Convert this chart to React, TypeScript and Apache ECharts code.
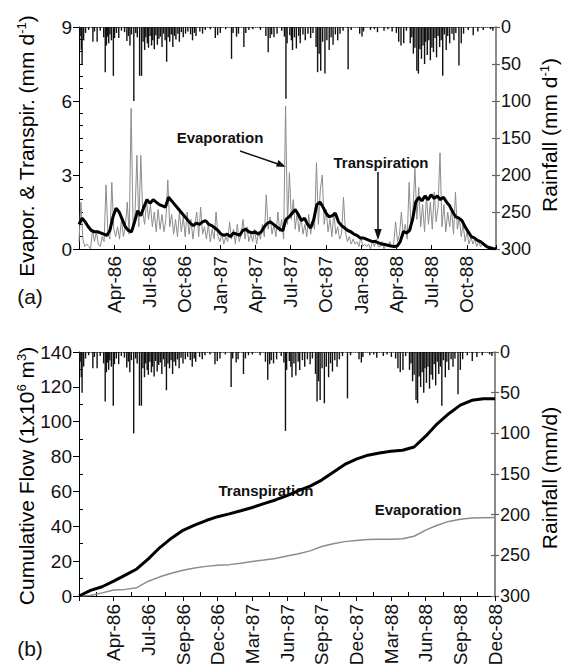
import React, { useEffect, useRef } from "react";
import * as echarts from "echarts";

// ---------- data ----------
// x positions are days since 1 Jan 1986
const quarterLabelsA = ["", "Apr-86", "Jul-86", "Oct-86", "Jan-87", "Apr-87", "Jul-87", "Oct-87", "Jan-88", "Apr-88", "Jul-88", "Oct-88"];
const tickLabelsB = ["", "Apr-86", "Jul-86", "Sep-86", "Dec-86", "Mar-87", "Jun-87", "Sep-87", "Dec-87", "Mar-88", "Jun-88", "Sep-88", "Dec-88"];

// transpiration (mm/d), one value every 8 days
const transpStep = 8;
const transpiration = [
  1.0, 1.25, 1.1, 0.9, 0.75, 0.7, 0.7, 0.65, 0.6, 0.55, 0.75, 1.3, 1.65, 1.5, 1.2, 0.9,
  0.75, 0.7, 1.1, 1.55, 1.35, 1.7, 2.0, 1.85, 2.0, 1.9, 1.8, 1.75, 1.7, 2.1, 1.95, 1.8,
  1.65, 1.5, 1.35, 1.2, 1.05, 0.95, 1.05, 1.0, 1.1, 1.15, 1.0, 0.95, 0.85, 0.75, 0.6, 0.55,
  0.6, 0.5, 0.65, 0.6, 0.55, 0.75, 0.8, 0.7, 0.65, 0.7, 0.6, 0.7, 0.9, 1.05, 1.1, 1.0,
  0.9, 0.8, 0.75, 1.2, 1.3, 1.45, 1.6, 1.4, 1.15, 1.25, 1.0, 0.85, 1.2, 1.8, 1.9, 1.7,
  1.45, 1.3, 1.35, 1.45, 1.1, 0.95, 0.85, 0.75, 0.7, 0.6, 0.55, 0.45, 0.45, 0.4, 0.35, 0.3,
  0.3, 0.25, 0.2, 0.18, 0.15, 0.12, 0.1, 0.12, 0.3, 0.7, 0.65, 0.75, 1.2, 1.9, 2.1, 1.95,
  2.15, 2.0, 2.2, 2.05, 2.15, 2.0, 2.1, 1.9, 1.75, 1.5, 1.3, 1.25, 1.15, 0.9, 0.7, 0.5,
  0.45, 0.35, 0.3, 0.2, 0.1, 0.05, 0.02, 0.01,
];

// evaporation (mm/d), one value every 5 days
const evapStep = 5;
const evaporation = [
  0.3, 1.9, 0.4, 0.1, 0.2, 0.1, 0.0, 0.8, 0.3, 0.7, 0.2, 0.1, 0.5, 0.3, 2.6, 0.6, 0.4, 2.7,
  0.8, 0.5, 0.9, 0.4, 1.2, 0.5, 0.9, 1.9, 0.6, 5.7, 1.0, 1.4, 3.8, 0.9, 3.8, 1.5, 1.0, 2.0,
  1.2, 1.8, 0.9, 1.5, 0.7, 1.6, 0.8, 1.4, 0.7, 1.2, 2.8, 0.9, 1.4, 0.6, 1.2, 0.5, 1.5, 0.7,
  1.3, 0.5, 1.5, 0.6, 1.2, 0.4, 1.0, 1.5, 0.5, 1.7, 0.6, 0.9, 0.4, 1.0, 0.3, 0.8, 0.4, 1.5,
  0.5, 0.3, 0.6, 0.2, 0.5, 0.3, 1.1, 0.4, 0.8, 0.2, 1.0, 0.3, 0.6, 1.2, 0.4, 0.9, 0.3, 0.6,
  0.3, 0.8, 0.2, 0.7, 0.4, 1.0, 0.5, 2.2, 0.8, 1.3, 0.6, 1.0, 0.5, 1.5, 0.7, 1.2, 0.4, 5.8,
  1.0, 3.1, 1.2, 2.0, 0.8, 1.5, 0.7, 1.3, 0.6, 1.0, 0.5, 1.4, 0.6, 1.2, 0.8, 3.5, 1.0, 2.4,
  3.0, 1.0, 1.6, 0.7, 1.2, 0.5, 1.5, 0.6, 0.9, 0.4, 0.6, 2.1, 0.7, 0.3, 0.5, 0.2, 0.4, 0.2,
  0.3, 0.1, 0.5, 0.1, 0.2, 0.1, 0.2, 0.0, 0.3, 0.1, 0.4, 0.1, 0.1, 0.3, 0.0, 0.2, 0.1, 0.3,
  0.1, 0.2, 1.1, 0.3, 0.6, 1.5, 0.5, 1.0, 0.4, 2.7, 0.8, 1.6, 3.3, 1.2, 2.5, 0.9, 1.8, 0.7,
  2.2, 1.0, 1.9, 0.8, 2.3, 1.1, 1.7, 3.9, 0.9, 1.8, 0.7, 1.5, 0.9, 1.6, 0.6, 2.3, 0.8, 1.3,
  0.5, 1.0, 0.3, 0.7, 0.2, 0.5, 0.2, 0.4, 0.1, 0.3, 0.1, 0.2, 0.1, 0.1, 0.0, 0.1, 0.0, 0.0,
];

// daily rainfall events [day, mm]
const rainfall = [
  [3, 12], [6, 31], [8, 50], [12, 18], [17, 8], [25, 4], [36, 20], [40, 6], [47, 20], [55, 5],
  [64, 14], [68, 61], [71, 25], [74, 13], [77, 22], [80, 10], [84, 18], [89, 66], [92, 15], [97, 8],
  [103, 15], [110, 5], [118, 7], [124, 19], [128, 12], [132, 25], [136, 10], [142, 100], [147, 8], [151, 14],
  [157, 66], [162, 66], [166, 20], [170, 31], [173, 14], [177, 22], [180, 28], [184, 12], [188, 25], [191, 18],
  [195, 30], [199, 11], [203, 24], [207, 16], [211, 13], [215, 27], [219, 9], [223, 18], [227, 47], [231, 14],
  [235, 20], [239, 10], [243, 27], [247, 12], [251, 17], [256, 9], [260, 20], [265, 7], [270, 14], [276, 9],
  [282, 6], [289, 10], [294, 18], [299, 8], [303, 12], [313, 6], [320, 9], [327, 4], [340, 3], [353, 15],
  [359, 11], [366, 8], [380, 3], [395, 43], [399, 8], [408, 13], [413, 9], [427, 27], [432, 8], [440, 4],
  [450, 3], [470, 4], [484, 12], [490, 34], [495, 15], [499, 10], [505, 14], [513, 9], [525, 5], [532, 13],
  [536, 97], [539, 22], [546, 11], [550, 18], [553, 31], [558, 14], [563, 29], [569, 12], [573, 22], [580, 10],
  [586, 18], [593, 9], [600, 15], [606, 8], [614, 27], [618, 61], [622, 36], [626, 59], [631, 20], [637, 63],
  [642, 18], [648, 31], [653, 14], [658, 24], [664, 10], [670, 18], [676, 9], [684, 5], [697, 57], [705, 4],
  [727, 9], [733, 13], [737, 6], [755, 4], [765, 3], [773, 7], [790, 5], [800, 3], [811, 6], [822, 8],
  [828, 20], [834, 25], [841, 22], [848, 5], [858, 22], [862, 14], [866, 36], [870, 28], [875, 59], [879, 63],
  [883, 30], [887, 43], [891, 25], [895, 50], [898, 20], [902, 38], [906, 18], [910, 45], [914, 28], [918, 34],
  [922, 15], [926, 41], [930, 12], [934, 27], [938, 18], [942, 66], [946, 10], [951, 31], [955, 12], [960, 22],
  [966, 9], [971, 18], [976, 8], [984, 52], [990, 22], [996, 9], [1008, 4], [1021, 11], [1033, 6], [1047, 4],
  [1066, 3], [1072, 5],
];

// cumulative flow (1x10^6 m3), one value every 30 days
const cumStep = 30;
const cumTranspiration = [
  0, 3.2, 5.3, 8.5, 12, 15.5, 21.3, 27.8, 33.2, 37.7, 40.7, 43.3, 45.5, 47.1, 48.9, 50.8,
  53, 55.1, 57.6, 60.5, 63, 66.5, 71, 75.5, 78.5, 80.8, 82, 83, 83.6, 85.5, 91.7, 98.8,
  104.6, 109.5, 112.3, 113.2, 113.2,
];
const cumEvaporation = [
  0, 0.3, 1.8, 3.5, 3.8, 4.8, 8.5, 11, 13, 14.8, 16.1, 17, 17.7, 18, 18.8, 19.8,
  20.6, 21.5, 22.9, 24.3, 25.9, 28.4, 30, 31.2, 31.9, 32.4, 32.6, 32.6, 32.9, 34.3, 37.8, 40.6,
  42.8, 44.1, 44.7, 44.9, 45.0,
];

// ---------- chart ----------
const FONT = '"Liberation Sans", Arial, Helvetica, sans-serif';
const QA = 91.3;
const QB = 90;
const XMAX = 1080;

const fmtA = (v: number) => {
  const k = Math.round(v / QA);
  return Math.abs(v - k * QA) < 0.5 ? quarterLabelsA[k] ?? "" : "";
};
const fmtB = (v: number) => {
  const k = Math.round(v / QB);
  return Math.abs(v - k * QB) < 0.5 ? tickLabelsB[k] ?? "" : "";
};

const lbl = { fontSize: 19, color: "#111", fontFamily: FONT };

function mainX(grid: number, interval: number, fmt: (v: number) => string, inside: boolean) {
  return {
    gridIndex: grid, type: "value", position: "bottom", min: 0, max: XMAX, interval,
    axisLine: { show: true, onZero: false, lineStyle: { color: "#000", width: 1 } },
    axisTick: { show: true, inside, length: inside ? 4 : 5, lineStyle: { color: "#000" } },
    axisLabel: { ...lbl, rotate: 90, margin: inside ? 7 : 8, formatter: fmt, showMinLabel: true, showMaxLabel: true },
    splitLine: { show: false },
  };
}
function minorX(grid: number, interval: number) {
  return {
    gridIndex: grid, type: "value", position: "bottom", min: 0, max: XMAX, interval,
    axisLine: { show: false, onZero: false },
    axisTick: { show: false, inside: true },
    minorTick: { show: true, splitNumber: 2, length: 4, lineStyle: { color: "#000" } },
    axisLabel: { show: false }, splitLine: { show: false },
  };
}
function topX(grid: number) {
  return {
    gridIndex: grid, type: "value", position: "top", min: 0, max: XMAX,
    axisLine: { show: true, onZero: false, lineStyle: { color: "#555", type: "dotted", width: 1 } },
    axisTick: { show: false }, axisLabel: { show: false }, splitLine: { show: false },
  };
}
function leftY(grid: number, max: number, interval: number) {
  return {
    gridIndex: grid, type: "value", position: "left", min: 0, max, interval,
    axisLine: { show: true, onZero: false, lineStyle: { color: "#000", width: 1 } },
    axisTick: { show: true, length: 6, lineStyle: { color: "#000" } },
    axisLabel: { ...lbl, margin: 7 },
    splitLine: { show: false },
  };
}
function leftMinorY(grid: number, max: number, interval: number, split: number) {
  return {
    gridIndex: grid, type: "value", position: "left", min: 0, max, interval,
    axisLine: { show: false, onZero: false },
    axisTick: { show: false, inside: true },
    minorTick: { show: true, splitNumber: split, length: 4, lineStyle: { color: "#000" } },
    axisLabel: { show: false }, splitLine: { show: false }, minorSplitLine: { show: false },
  };
}
function rightY(grid: number) {
  return {
    gridIndex: grid, type: "value", position: "right", inverse: true, min: 0, max: 300, interval: 50,
    axisLine: { show: true, onZero: false, lineStyle: { color: "#666", width: 1.5 } },
    axisTick: { show: true, inside: true, length: 4, lineStyle: { color: "#666", width: 1.2 } },
    axisLabel: { ...lbl, fontSize: 18, margin: 5 },
    splitLine: { show: false },
  };
}
function rightOutY(grid: number) {
  return {
    gridIndex: grid, type: "value", position: "right", inverse: true, min: 0, max: 300, interval: 50,
    axisLine: { show: false, onZero: false },
    axisTick: { show: true, length: 4, lineStyle: { color: "#666", width: 1.2 } },
    axisLabel: { show: false }, splitLine: { show: false },
  };
}

const rich = {
  n: { fontSize: 21, fontFamily: FONT, color: "#111", lineHeight: 23 },
  s: { fontSize: 13, fontFamily: FONT, color: "#111", lineHeight: 13, verticalAlign: "top" },
};

function vTitle(x: number, y: number, text: string) {
  return {
    type: "text", x, y, rotation: Math.PI / 2,
    style: { text, rich, align: "center", verticalAlign: "middle" },
  };
}
function note(x: number, y: number, text: string) {
  return {
    type: "text", x, y,
    style: { text, fontSize: 15, fontWeight: "bold", fontFamily: FONT, fill: "#111", align: "center", verticalAlign: "middle" },
  };
}
function plain(x: number, y: number, text: string) {
  return {
    type: "text", x, y,
    style: { text, fontSize: 21, fontFamily: FONT, fill: "#111", align: "center", verticalAlign: "middle" },
  };
}

export default function App() {
  const ref = useRef<HTMLDivElement>(null);
  useEffect(() => {
    if (!ref.current) return;
    const chart = echarts.init(ref.current, undefined, { renderer: "svg" });

    const evapData = evaporation.map((v, i) => [i * evapStep, v]);
    const transpData = transpiration.map((v, i) => [i * transpStep, v]);
    const cumT = cumTranspiration.map((v, i) => [i * cumStep, v]);
    const cumE = cumEvaporation.map((v, i) => [i * cumStep, v]);

    const option: any = {
      animation: false,
      grid: [
        { left: 79, right: 68, top: 27, height: 222, containLabel: false, outerBoundsMode: "none" },
        { left: 79, right: 69, top: 352, height: 244, containLabel: false, outerBoundsMode: "none" },
      ],
      xAxis: [
        mainX(0, QA, fmtA, true), // 0
        topX(0), // 1
        mainX(1, QB, fmtB, false), // 2
        minorX(1, QB), // 3
        topX(1), // 4
      ],
      yAxis: [
        leftY(0, 9, 3), // 0
        rightY(0), // 1
        leftMinorY(0, 9, 3, 6), // 2
        rightOutY(0), // 3
        leftY(1, 140, 20), // 4
        rightY(1), // 5
        leftMinorY(1, 140, 20, 2), // 6
        rightOutY(1), // 7
      ],
      series: [
        { type: "bar", xAxisIndex: 0, yAxisIndex: 1, data: rainfall, barWidth: 1.4, itemStyle: { color: "#111" } },
        { type: "line", xAxisIndex: 0, yAxisIndex: 0, data: evapData, showSymbol: false, symbol: "none",
          lineStyle: { color: "#8c8c8c", width: 1 } },
        { type: "line", xAxisIndex: 0, yAxisIndex: 0, data: transpData, showSymbol: false, symbol: "none",
          lineStyle: { color: "#000", width: 3 }, z: 3 },
        { type: "bar", xAxisIndex: 2, yAxisIndex: 5, data: rainfall, barWidth: 1.4, itemStyle: { color: "#111" } },
        { type: "line", xAxisIndex: 2, yAxisIndex: 4, data: cumE, showSymbol: false, symbol: "none",
          lineStyle: { color: "#8c8c8c", width: 1.5 } },
        { type: "line", xAxisIndex: 2, yAxisIndex: 4, data: cumT, showSymbol: false, symbol: "none",
          lineStyle: { color: "#000", width: 3 }, z: 3 },
      ],
      graphic: [
        vTitle(26, 146, "{n|Evapor. & Transpir. (mm d}{s|-1}{n|)}"),
        vTitle(549, 135, "{n|Rainfall (mm d}{s|-1}{n|)}"),
        vTitle(26, 476, "{n|Cumulative Flow (1x10}{s|6}{n| m}{s|3}{n|)}"),
        vTitle(549, 478, "{n|Rainfall (mm/d)}"),
        plain(30, 296, "(a)"),
        plain(30, 648, "(b)"),
        note(220, 137, "Evaporation"),
        note(381, 162, "Transpiration"),
        note(266, 490, "Transpiration"),
        note(418, 509, "Evaporation"),
        { type: "line", shape: { x1: 240, y1: 151, x2: 278, y2: 164 }, style: { stroke: "#111", lineWidth: 1.5 } },
        { type: "polygon", shape: { points: [[286, 167], [276, 166.5], [278.5, 160]] }, style: { fill: "#111" } },
        { type: "line", shape: { x1: 378, y1: 172, x2: 378, y2: 231 }, style: { stroke: "#111", lineWidth: 1.5 } },
        { type: "polygon", shape: { points: [[378, 240], [374.3, 229], [381.7, 229]] }, style: { fill: "#111" } },
      ],
    };
    chart.setOption(option);
    return () => chart.dispose();
  }, []);
  return <div ref={ref} style={{ position: "fixed", left: 0, top: 0, width: 564, height: 664, background: "#fff" }} />;
}
